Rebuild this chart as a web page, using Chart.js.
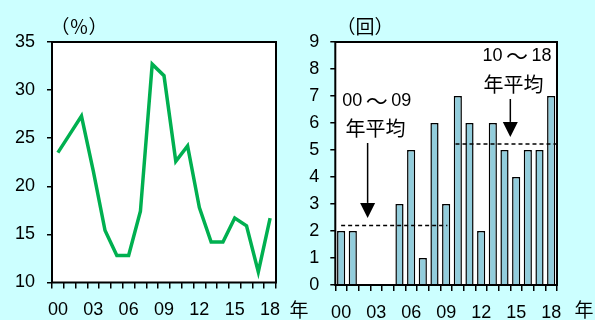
<!DOCTYPE html>
<html>
<head>
<meta charset="utf-8">
<script src="https://cdn.jsdelivr.net/npm/chart.js@4/dist/chart.umd.min.js"></script>
<style>
  html, body { margin: 0; padding: 0; background: #ccffff; }
  body { width: 595px; height: 320px; position: relative; overflow: hidden; }
  #rateChart { position: absolute; left: 0; top: 0; }
  #countChart { position: absolute; left: 297px; top: 0; }
</style>
</head>
<body>
<canvas id="rateChart" width="315" height="320"></canvas>
<canvas id="countChart" width="298" height="320"></canvas>
<script>
// Years 2000-2018, shown as two-digit labels
const years = ['00','01','02','03','04','05','06','07','08','09',
               '10','11','12','13','14','15','16','17','18'];

// Left panel: annual rate (%)
const rateValues = [23.5, 25.4, 27.3, 21.6, 15.4, 12.8, 12.8, 17.4, 32.7, 31.5,
                    22.6, 24.2, 17.8, 14.2, 14.2, 16.7, 15.9, 11.1, 16.7];
const rateTicks = [10, 15, 20, 25, 30, 35];

// Right panel: number of occurrences per year (回)
const countValues = [2, 2, 0, 0, 0, 3, 5, 1, 6, 3, 7, 6, 2, 6, 5, 4, 5, 5, 7];
const countTicks = [0, 1, 2, 3, 4, 5, 6, 7, 8, 9];

// Period averages shown as dashed reference lines
const firstPeriod = countValues.slice(0, 10);   // 00～09
const secondPeriod = countValues.slice(10);     // 10～18
const mean = a => a.reduce((s, v) => s + v, 0) / a.length;
const firstAvg = mean(firstPeriod);
const secondAvg = mean(secondPeriod);

const LATIN = "'Liberation Sans', Arial, sans-serif";
const CJK = "'Noto Sans CJK JP', sans-serif";
const tickFont = { family: LATIN, size: 18 };

// White plotting area with a black frame
const panelFrame = {
  id: 'panelFrame',
  beforeDraw(chart) {
    const a = chart.chartArea, ctx = chart.ctx;
    ctx.save();
    ctx.fillStyle = '#ffffff';
    ctx.fillRect(a.left, a.top, a.right - a.left, a.bottom - a.top);
    ctx.restore();
  },
  afterDatasetsDraw(chart) {
    const a = chart.chartArea, ctx = chart.ctx;
    ctx.save();
    ctx.strokeStyle = '#000';
    ctx.lineWidth = 2;
    ctx.strokeRect(a.left, a.top, a.right - a.left, a.bottom - a.top);
    ctx.restore();
  }
};

// Free-standing labels (unit, year suffix)
const captions = {
  id: 'captions',
  afterDraw(chart, args, opts) {
    const ctx = chart.ctx;
    ctx.save();
    ctx.fillStyle = '#000';
    ctx.textBaseline = 'middle';
    ctx.textAlign = 'center';
    for (const it of opts.items || []) {
      ctx.font = it.font;
      ctx.fillText(it.text, it.x, it.y);
    }
    ctx.restore();
  }
};

function categoryAxis(height) {
  return {
    offset: true,
    grid: { offset: true, drawOnChartArea: false, drawTicks: true, tickLength: 6, color: '#000', lineWidth: 1.5 },
    border: { display: false },
    ticks: {
      autoSkip: false, maxRotation: 0, minRotation: 0, padding: 11,
      color: '#000', font: tickFont,
      callback(v, i) { return i % 3 === 0 ? years[i] : ''; }
    },
    afterFit(s) { s.height = height; }
  };
}

function valueAxis(ticks, width, pad) {
  return {
    min: ticks[0], max: ticks[ticks.length - 1],
    afterBuildTicks(s) { s.ticks = ticks.map(v => ({ value: v })); },
    grid: { drawOnChartArea: false, drawTicks: true, tickLength: 5, color: '#000', lineWidth: 1.5 },
    border: { display: false },
    ticks: { padding: pad, color: '#000', font: tickFont },
    afterFit(s) { s.width = width; }
  };
}

new Chart(document.getElementById('rateChart'), {
  type: 'line',
  data: {
    labels: years,
    datasets: [{
      data: rateValues,
      borderColor: '#00b050',
      borderWidth: 3.5,
      pointRadius: 0,
      tension: 0,
      fill: false
    }]
  },
  options: {
    responsive: false,
    animation: false,
    layout: { padding: { top: 42, right: 39, left: 0, bottom: 0 } },
    plugins: {
      legend: { display: false },
      tooltip: { enabled: false },
      captions: {
        items: [
          { text: '（％）', x: 79, y: 27, font: `19px ${CJK}` },
          { text: '年', x: 299, y: 310, font: `19px ${CJK}` }
        ]
      }
    },
    scales: {
      x: categoryAxis(37.5),
      y: valueAxis(rateTicks, 52, 12)
    }
  },
  plugins: [panelFrame, captions]
});

// Dashed average lines with their labels and arrows
const averageNotes = {
  id: 'averageNotes',
  afterDatasetsDraw(chart) {
    const ctx = chart.ctx, xs = chart.scales.x, ys = chart.scales.y;
    const X = v => xs.getPixelForValue(v), Y = v => ys.getPixelForValue(v);
    ctx.save();
    ctx.strokeStyle = '#000';
    ctx.lineWidth = 1.5;
    ctx.setLineDash([4, 3]);
    ctx.beginPath();
    ctx.moveTo(X(0), Y(firstAvg)); ctx.lineTo(X(9.1), Y(firstAvg));
    ctx.moveTo(X(9.8), Y(secondAvg)); ctx.lineTo(X(18.5), Y(secondAvg));
    ctx.stroke();
    ctx.setLineDash([]);

    function arrow(xv, topV, baseV, tipV) {
      const x = X(xv);
      ctx.lineWidth = 1.5;
      ctx.beginPath();
      ctx.moveTo(x, Y(topV)); ctx.lineTo(x, Y(baseV));
      ctx.stroke();
      ctx.beginPath();
      ctx.moveTo(x - 7.5, Y(baseV));
      ctx.lineTo(x + 7.5, Y(baseV));
      ctx.lineTo(x, Y(tipV));
      ctx.closePath();
      ctx.fill();
    }
    ctx.fillStyle = '#000';
    arrow(2.27, 5.26, 3.04, 2.48);
    arrow(14.5, 6.89, 6.04, 5.48);

    function range(xv, yv, a, b) {
      const x = X(xv), y = Y(yv);
      ctx.textBaseline = 'middle';
      ctx.textAlign = 'center';
      ctx.font = `18px ${LATIN}`;
      ctx.fillText(a, x - 24.5, y);
      ctx.fillText(b, x + 24.5, y);
      ctx.font = `22px ${CJK}`;
      ctx.fillText('～', x, y);
    }
    range(3.06, 6.81, '00', '09');
    range(15.07, 8.48, '10', '18');

    ctx.textAlign = 'center';
    ctx.textBaseline = 'middle';
    ctx.font = `20px ${CJK}`;
    ctx.fillText('年平均', X(2.95), Y(5.81));
    ctx.fillText('年平均', X(14.77), Y(7.44));
    ctx.restore();
  }
};

new Chart(document.getElementById('countChart'), {
  type: 'bar',
  data: {
    labels: years,
    datasets: [{
      data: countValues,
      backgroundColor: '#92cddc',
      borderColor: '#000',
      borderWidth: 1.5,
      barPercentage: 0.7,
      categoryPercentage: 1
    }]
  },
  options: {
    responsive: false,
    animation: false,
    layout: { padding: { top: 42, right: 38, left: 0, bottom: 0 } },
    plugins: {
      legend: { display: false },
      tooltip: { enabled: false },
      captions: {
        items: [
          { text: '（回）', x: 68, y: 27, font: `19px ${CJK}` },
          { text: '年', x: 287, y: 310, font: `19px ${CJK}` }
        ]
      }
    },
    scales: {
      x: categoryAxis(35),
      y: valueAxis(countTicks, 38.3, 11)
    }
  },
  plugins: [panelFrame, averageNotes, captions]
});
</script>
</body>
</html>
